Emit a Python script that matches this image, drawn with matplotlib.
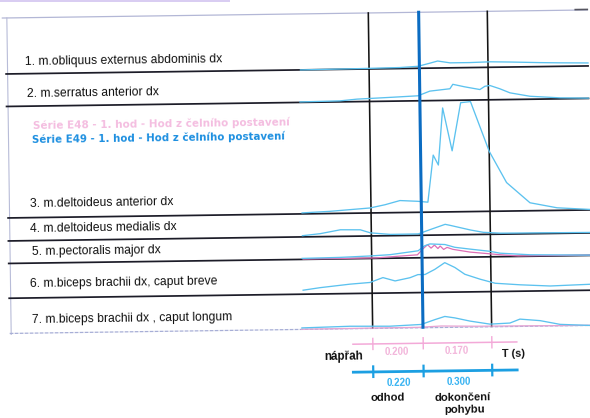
import matplotlib
matplotlib.use("Agg")
import matplotlib.pyplot as plt
from matplotlib.transforms import Affine2D
from matplotlib.patches import Rectangle

W, H, DPI = 590, 418, 100
SEC_PER_PX = 0.00437      # horizontal time scale of the record
T0_PX = 371               # pixel column of t = 0 (end of nápřah)
TILT = 0.79               # slight rotation of the whole sheet (deg)

# ---------------------------------------------------------------- data
muscles = [
    "1. m.obliquus externus abdominis dx",
    "2. m.serratus anterior dx",
    "3. m.deltoideus anterior dx",
    "4. m.deltoideus medialis dx",
    "5. m.pectoralis major dx",
    "6. m.biceps brachii dx, caput breve",
    "7. m.biceps brachii dx , caput longum",
]
series_names = [
    "Série E48 - 1. hod - Hod z čelního postavení",
    "Série E49 - 1. hod - Hod z čelního postavení",
]

# phase boundaries (s): end of nápřah, release (odhod), end of movement
phase_t = [0.0, 0.22, 0.52]
phase_names = [["odhod"], ["dokončení", "pohybu"]]
dur_e48 = ["0.200", "0.170"]
dur_e49 = ["0.220", "0.300"]

# EMG envelopes, series E49 (time s, amplitude in row units)
t_obl = [-0.30, -0.04, 0.135, 0.214, 0.267, 0.30, 0.354, 0.441, 0.529, 0.616, 0.747, 0.835, 0.957]
a_obl = [0, 0.5, 1, 2, 5, 7, 5, 5, 5.5, 5, 4, 3.5, 3]

t_ser = [-0.304, -0.129, -0.055, 0.002, 0.111, 0.212, 0.264, 0.352, 0.365, 0.417,
         0.483, 0.505, 0.527, 0.570, 0.614, 0.701, 0.832, 0.957]
a_ser = [0.5, 1, 2.5, 3, 4, 5, 9.5, 11.6, 16, 13.3, 10.4, 13.6, 14.3, 10.9, 6.7, 3, 1, 0.3]

t_dant = [-0.3015, -0.179, -0.004, 0.061, 0.127, 0.205, 0.249, 0.275, 0.297, 0.319,
          0.358, 0.398, 0.441, 0.520, 0.594, 0.695, 0.813, 0.957]
a_dant = [1, 2.2, 5, 8, 12, 11, 10, 57, 47, 104, 61, 109, 110, 60, 28.5, 8, 2.6, 0.5]

t_dmed = [-0.3015, -0.223, -0.135, -0.048, -0.004, 0.083, 0.205, 0.258, 0.323, 0.345,
          0.433, 0.489, 0.564, 0.957]
a_dmed = [1.2, 3, 6.6, 6.3, 3.1, 1.3, 1.4, 5.6, 10.6, 9.5, 4.6, 2.1, 1, 0.5]

t_pect = [-0.304, -0.138, -0.007, 0.080, 0.203, 0.233, 0.255, 0.321, 0.364, 0.430,
          0.517, 0.561, 0.692, 0.957]
a_pect = [1, 1.5, 2.5, 3.5, 7, 12, 13.7, 12.9, 10, 8, 5.5, 3.5, 1.5, 0.3]

t_bbr = [-0.3015, -0.227, -0.096, -0.009, 0.048, 0.101, 0.166, 0.201, 0.232, 0.275,
         0.319, 0.363, 0.406, 0.472, 0.538, 0.647, 0.778, 0.957]
a_bbr = [4, 6.3, 9.4, 10.8, 15.5, 12, 15, 18, 18, 23, 29.6, 24.6, 17.7, 12.6, 8.3, 6.4, 4.8, 6]

t_blo = [-0.309, -0.099, 0.076, 0.212, 0.273, 0.316, 0.360, 0.426, 0.513, 0.600,
         0.644, 0.732, 0.819, 0.950]
a_blo = [1.5, 2.5, 2, 3.3, 8, 11, 9.4, 6, 2.7, 3.5, 7.3, 5.5, 1.5, 0]

# series E48 where it shows apart from E49
t48_pect = [-0.30, -0.01, 0.02, 0.20, 0.225, 0.245, 0.26, 0.275, 0.29, 0.30,
            0.315, 0.33, 0.355, 0.43, 0.56, 0.64, 0.72, 0.957]
a48_pect = [0.3, 0.5, 0.5, 3, 9, 13, 9.5, 12.5, 9, 11.5, 8, 10, 8, 5, 2, 0.5, 0.5, 0.3]
t48_blo = [-0.31, 0.20, 0.30, 0.45, 0.60, 0.80, 0.957]
a48_blo = [0.2, 0.5, 1.5, 0.8, 0.6, 0.3, 0.2]

# ---------------------------------------------------------------- layout
sep_rows = [70, 102.5, 214, 237, 259.5, 294.3, 329.5]   # channel baselines
top_row = 14
label_xy = [(27, 61), (28.3, 93), (30, 203), (29.7, 228), (31, 251.3), (29, 283), (30.2, 319.6)]

C_E49 = "#5cc2ef"
C_E48 = "#dd6fb5"
C_GRID = "#1c1c28"

fig = plt.figure(figsize=(W / DPI, H / DPI), dpi=DPI)
fig.patch.set_facecolor("white")
ax = fig.add_axes([0, 0, 1, 1])
ax.set_xlim(-T0_PX * SEC_PER_PX, (W - T0_PX) * SEC_PER_PX)
ax.set_ylim(H, 0)
ax.axis("off")

rot = Affine2D().rotate_deg_around(W / 2, H / 2, TILT)
tdat = ax.transData + rot
timg = Affine2D().scale(1, -1).translate(0, H) + rot

# lavender strip along the top edge
fig.patches.append(Rectangle((0, H - 2), 230, 2, transform=None,
                             color="#d9cdf2", lw=0))

# frame
ax.plot([5, W], [top_row, top_row], transform=timg, color="#b3b7d6", lw=0.9, clip_on=False)
ax.plot([578, W], [top_row - 0.5, top_row - 0.5], transform=timg, color="#555560", lw=1.2, clip_on=False)
ax.plot([9.5, 9.5], [top_row, sep_rows[-1] + 1], transform=timg, color="#b8bcd8", lw=0.8, clip_on=False)
for i, r in enumerate(sep_rows):
    if i == len(sep_rows) - 1:
        ax.plot([8, W], [r, r], transform=timg, color="#a7aed6", lw=0.9,
                ls=(0, (3, 1)), clip_on=False, zorder=2)
    else:
        ax.plot([8, W], [r, r], transform=timg, color=C_GRID, lw=1.25, clip_on=False, zorder=2)

# phase boundaries
for k, t in enumerate(phase_t):
    if k == 1:
        ax.plot([t, t], [top_row, 329], transform=tdat, color="#0b6cc2", lw=2.2,
                clip_on=False, zorder=5)
    else:
        ax.plot([t, t], [top_row, 329], transform=tdat, color="#141414", lw=1.15,
                clip_on=False, zorder=2)

# EMG traces
traces = [(t_obl, a_obl), (t_ser, a_ser), (t_dant, a_dant), (t_dmed, a_dmed),
          (t_pect, a_pect), (t_bbr, a_bbr), (t_blo, a_blo)]
for (tt, aa), base in zip(traces, sep_rows):
    ax.plot(tt, [base - a for a in aa], transform=tdat, color=C_E49, lw=0.95,
            clip_on=False, zorder=4)
ax.plot(t48_pect, [sep_rows[4] - a for a in a48_pect], transform=tdat, color=C_E48,
        lw=0.9, clip_on=False, zorder=3.5)
ax.plot(t48_blo, [sep_rows[6] - a for a in a48_blo], transform=tdat, color="#e7a3d2",
        lw=0.9, clip_on=False, zorder=3.5)

# muscle labels
for name, (x, y) in zip(muscles, label_xy):
    ax.text(x, y, name, transform=timg, family="Liberation Sans", fontsize=8.7,
            color="#111111", ha="left", va="baseline", rotation=TILT,
            rotation_mode="anchor")

# series legend
ax.text(34, 125.7, series_names[0], transform=timg, family="DejaVu Sans",
        fontweight="bold", fontsize=7.45, color="#f4bde0", va="baseline",
        rotation=TILT, rotation_mode="anchor")
ax.text(33, 139.7, series_names[1], transform=timg, family="DejaVu Sans",
        fontweight="bold", fontsize=7.35, color="#1d8fe0", va="baseline",
        rotation=TILT, rotation_mode="anchor")

# time axes of both series
t_lo, t_hi = -0.087, 0.629
ax.plot([t_lo, t_hi], [345, 345], transform=tdat, color="#f3a9d8", lw=1.1, clip_on=False)
ax.plot([t_lo, t_hi], [373, 373], transform=tdat, color="#1c9fe2", lw=2.0, clip_on=False)
for t in phase_t:
    ax.plot([t, t], [339.5, 350.5], transform=tdat, color="#f3a9d8", lw=1.0, clip_on=False)
    ax.plot([t, t], [367.5, 378], transform=tdat, color="#1c9fe2", lw=1.6, clip_on=False)

bold = dict(transform=timg, family="Liberation Sans", fontweight="bold",
            rotation=TILT, rotation_mode="anchor")
ax.text(361, 360, "nápřah", ha="right", va="baseline", fontsize=8.4, color="#111111", **bold)
ax.text(500, 360, "T (s)", ha="left", va="baseline", fontsize=7.8, color="#111111", **bold)
mids = [(phase_t[0] + phase_t[1]) / 2, (phase_t[1] + phase_t[2]) / 2]
name_pos = [[(385, 402.5)], [(460, 402.5), (462, 415.5)]]
for txt48, txt49, m, words, spots in zip(dur_e48, dur_e49, mids, phase_names, name_pos):
    px = T0_PX + m / SEC_PER_PX
    ax.text(px - 1, 355.8, txt48, ha="center", va="baseline", fontsize=7.0,
            color="#f2b4da", **bold)
    ax.text(px + 0.5, 386.8, txt49, ha="center", va="baseline", fontsize=7.0,
            color="#34b2f2", **bold)
    for word, (x, y) in zip(words, spots):
        ax.text(x, y, word, ha="center", va="baseline", fontsize=8.1,
                color="#111111", **bold)

fig.savefig("out.png", dpi=DPI, facecolor="white")
